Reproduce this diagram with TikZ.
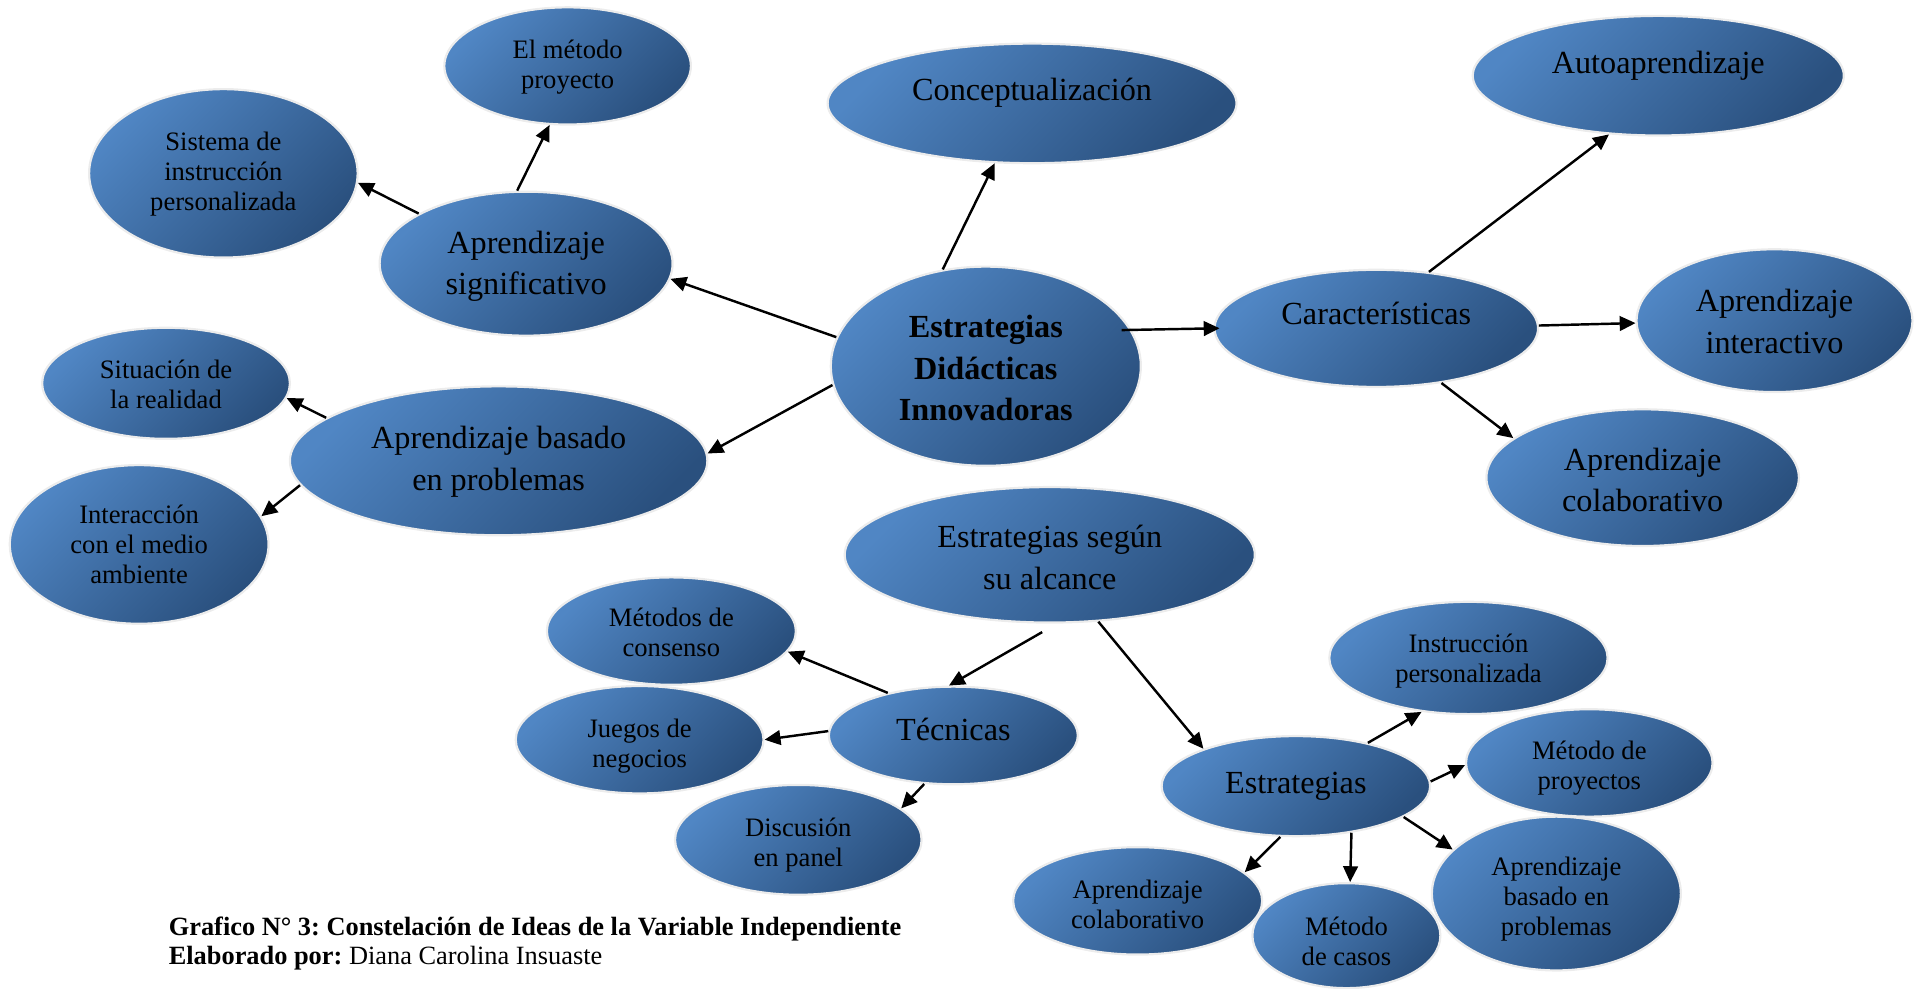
\documentclass[tikz,border=0pt]{standalone}
\usepackage{fontspec}
\setmainfont{Liberation Serif}
\frenchspacing
\usetikzlibrary{shapes.geometric,arrows.meta}
\definecolor{bubA}{RGB}{80,134,196}
\definecolor{bubB}{RGB}{42,80,126}
\definecolor{rim}{RGB}{236,236,236}
\newcommand{\strutH}[1]{\rule{0pt}{#1pt}}
\tikzset{
  bub/.style={ellipse, draw=rim, line width=0.9pt, top color=bubA, bottom color=bubB, shading angle=45, inner sep=0pt, align=center, text=black},
  big/.style={font=\fontsize{13.2}{17}\selectfont},
  bigb/.style={font=\fontsize{13.2}{17}\selectfont\bfseries},
  small/.style={font=\fontsize{10.9}{12.3}\selectfont},
  sz/.style 2 args={minimum width=#1pt, minimum height=#2pt},
  txt/.style 2 args={text height=#1pt, text depth=#2pt},
  arr/.style={-{Triangle[length=6.5pt,width=6pt]}, line width=1pt, draw=black}
}
\begin{document}
\begin{tikzpicture}[x=0.5pt,y=-0.5pt]
\useasboundingbox (0,0) rectangle (1568,810);

% nodes
\node[bub,big,txt={0}{2.4},sz={167.5}{49}] (concept) at (845.5,84.7) {Conceptualización};
\node[bub,small,sz={101}{48}] (metodo) at (465,54) {\strutH{8.8}El método\\proyecto};
\node[bub,small,sz={110}{69}] (sistema) at (183,142) {\strutH{8.2}Sistema de\\instrucción\\personalizada};
\node[bub,big,txt={0}{2},sz={152}{49}] (auto) at (1358.5,62) {Autoaprendizaje};
\node[bub,big,sz={120}{59}] (signif) at (431,216) {\strutH{11.5}Aprendizaje\\significativo};
\node[bub,bigb,sz={127}{81.6}] (centro) at (807.6,300) {\strutH{11}Estrategias\\Didácticas\\Innovadoras};
\node[bub,big,txt={0}{3.2},sz={132.5}{48}] (carac) at (1127.5,269) {Características};
\node[bub,big,sz={113}{58.5}] (interact) at (1453.7,262.7) {\strutH{9.8}Aprendizaje\\interactivo};
\node[bub,big,sz={128}{56}] (colabR) at (1345.7,391.3) {\strutH{11}Aprendizaje\\colaborativo};
\node[bub,small,sz={101.5}{45.5}] (situ) at (136,314) {\strutH{8.2}Situación de\\la realidad};
\node[bub,big,sz={171}{61}] (abpL) at (408.5,377.5) {\strutH{10}Aprendizaje basado\\en problemas};
\node[bub,small,sz={106}{65}] (inter) at (114,446) {Interacción\\con el medio\\ambiente};
\node[bub,big,sz={168}{55.5}] (segun) at (860,454.5) {\strutH{11.5}Estrategias según\\su alcance};
\node[bub,small,sz={102}{44}] (consenso) at (550,517) {\strutH{9}Métodos de\\consenso};
\node[bub,big,txt={4}{0},sz={102}{40}] (tecnicas) at (781,602.5) {Técnicas};
\node[bub,small,sz={101.5}{44}] (juegos) at (524,606) {\strutH{12.5}Juegos de\\negocios};
\node[bub,small,sz={101}{45}] (discusion) at (654,688) {\strutH{12}Discusión\\en panel};
\node[bub,small,sz={114}{46}] (instruc) at (1203,539) {\strutH{10.2}Instrucción\\personalizada};
\node[bub,small,sz={101}{44}] (proyectos) at (1302,625) {\strutH{12.2}Método de\\proyectos};
\node[bub,big,txt={6}{0},sz={110}{41}] (estrat) at (1061.6,644) {Estrategias};
\node[bub,small,sz={102}{44}] (colabB) at (932,738) {\strutH{10.2}Aprendizaje\\colaborativo};
\node[bub,small,sz={77}{43}] (casos) at (1103,766.5) {\strutH{12.5}Método\\de casos};
\node[bub,small,sz={102}{63}] (abpR) at (1275,732) {\strutH{12.2}Aprendizaje\\basado en\\problemas};

% caption
\node[anchor=base west, inner sep=0pt, font=\fontsize{10.8}{12}\selectfont\bfseries] (cap1) at (137.9,766.5) {Grafico N° 3: Constelación de Ideas de la Variable Independiente};
\node[anchor=base west, inner sep=0pt, font=\fontsize{10.8}{12}\selectfont] (cap2) at (137.9,790.5) {\textbf{Elaborado por:} Diana Carolina Insuaste};

% connectors
\draw[arr] (centro.114.3) -- (concept.238.7);
\draw[arr] (centro.169.4) -- (signif.-6.2);
\draw[arr] (centro.187.9) -- (abpL.2.5);
\draw[arr, shorten <=-4pt, shorten >=-2.5pt] (centro.14.8) -- (carac.180);
\draw[arr] (signif.97.7) -- (metodo.253.6);
\draw[arr] (signif.155.3) -- (sistema.-4.1);
\draw[arr] (abpL.166.8) -- (situ.-7.9);
\draw[arr] (abpL.187.3) -- (inter.13.3);
\draw[arr] (carac.47) -- (auto.230.6);
\draw[arr] (carac.1.2) -- (interact.181.8);
\draw[arr] (carac.-40.9) -- (colabR.163.6);
\draw[arr, shorten <=7pt] (segun.-84.9) -- (tecnicas.95.6);
\draw[arr] (segun.-54.5) -- (estrat.158.8);
\draw[arr] (tecnicas.147.7) -- (consenso.-10);
\draw[arr] (tecnicas.178.6) -- (juegos.-0.9);
\draw[arr] (tecnicas.-121) -- (discusion.17.4);
\draw[arr] (estrat.31) -- (instruc.229.5);
\draw[arr] (estrat.2.9) -- (proyectos.181.7);
\draw[arr] (estrat.-16.1) -- (abpR.157.3);
\draw[arr] (estrat.-40.45) -- (casos.86.3);
\draw[arr] (estrat.-107.4) -- (colabB.15.5);
\end{tikzpicture}
\end{document}
